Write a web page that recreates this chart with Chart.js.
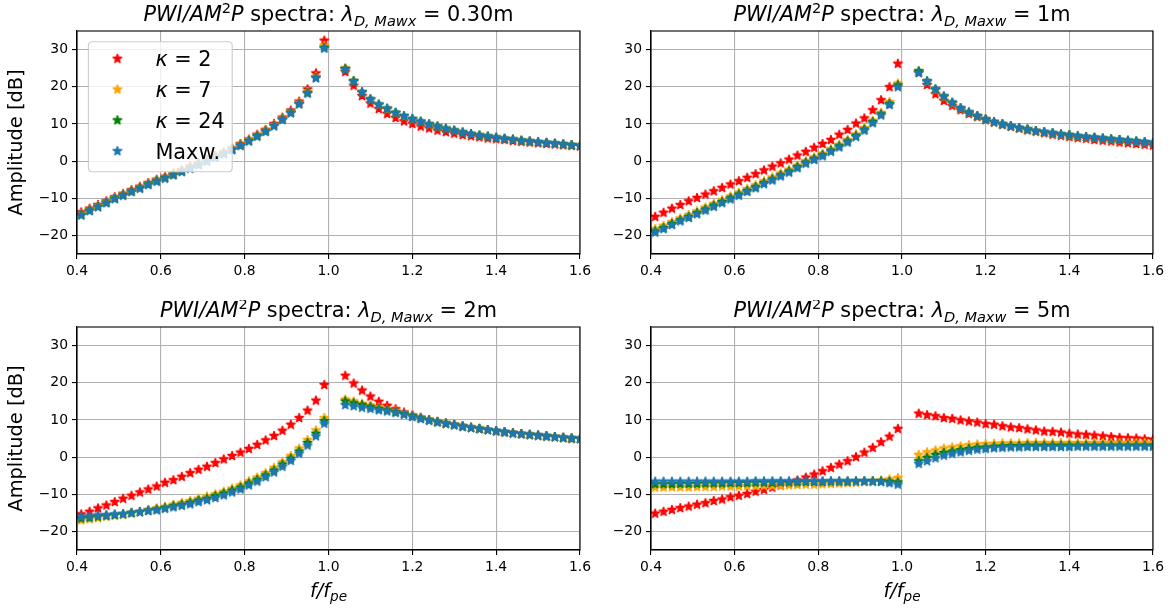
<!DOCTYPE html>
<html><head><meta charset="utf-8">
<script src="https://cdn.jsdelivr.net/npm/chart.js@4.4.1/dist/chart.umd.min.js"></script>
<style>
html,body{margin:0;padding:0;background:#fff;}
#wrap{position:relative;width:1175px;height:610px;overflow:hidden;background:#fff}
canvas{position:absolute;display:block}
</style></head><body><div id="wrap">
<canvas id="c1" width="600" height="300" style="left:0px;top:0px;width:600px;height:300px"></canvas>
<canvas id="c2" width="588" height="300" style="left:587px;top:0px;width:588px;height:300px"></canvas>
<canvas id="c3" width="600" height="310" style="left:0px;top:300px;width:600px;height:310px"></canvas>
<canvas id="c4" width="588" height="310" style="left:587px;top:300px;width:588px;height:310px"></canvas>
</div>
<script>
// ---------------- data ----------------
const freqRatio = [0.41,0.43,0.45,0.47,0.49,0.51,0.53,0.55,0.57,0.59,0.61,0.63,0.65,0.67,0.69,0.71,0.73,0.75,0.77,0.79,0.81,0.83,0.85,0.87,0.89,0.91,0.93,0.95,0.97,0.99,
  1.04,1.06,1.08,1.10,1.12,1.14,1.16,1.18,1.20,1.22,1.24,1.26,1.28,1.30,1.32,1.34,1.36,1.38,1.40,1.42,1.44,1.46,1.48,1.50,1.52,1.54,1.56,1.58,1.60];
const xTickValues = [0.4,0.6,0.8,1.0,1.2,1.4,1.6];
const yTickValues = [-20,-10,0,10,20,30];
const seriesLabels = ['κ = 2','κ = 7','κ = 24','Maxw.'];

// panel 1: lambda_D = 0.30 m
const p1_k2   = [-13.8,-12.8,-11.8,-10.8,-9.7,-8.8,-7.8,-6.9,-5.9,-5.0,-4.2,-3.3,-2.4,-1.5,-0.6,0.3,1.4,2.3,3.4,4.6,5.8,7.1,8.4,10.0,11.7,13.6,16.0,19.3,23.6,32.4,
  24.0,20.3,17.5,15.5,14.0,12.7,11.6,10.7,10.0,9.3,8.8,8.2,7.8,7.4,7.0,6.7,6.4,6.1,5.9,5.7,5.4,5.2,5.0,4.8,4.6,4.5,4.3,4.1,4.0];
const p1_k7   = [-14.3,-13.1,-12.1,-11.0,-9.9,-9.0,-8.0,-7.1,-6.1,-5.2,-4.4,-3.5,-2.6,-1.7,-0.8,0.2,1.2,2.2,3.3,4.4,5.6,6.9,8.2,9.7,11.4,13.2,15.6,18.6,22.7,31.0,
  25.0,21.6,18.6,16.6,15.1,13.9,12.9,12.0,11.2,10.5,9.8,9.2,8.7,8.2,7.7,7.3,6.9,6.6,6.3,6.0,5.8,5.5,5.3,5.1,4.9,4.7,4.5,4.3,4.2];
const p1_k24  = [-14.5,-13.3,-12.3,-11.2,-10.1,-9.2,-8.2,-7.3,-6.3,-5.4,-4.6,-3.7,-2.8,-1.9,-1.0,0.0,1.0,2.0,3.1,4.2,5.4,6.7,8.0,9.5,11.2,13.0,15.4,18.3,22.4,30.5,
  24.8,21.5,18.5,16.6,15.2,14.1,13.0,12.1,11.3,10.6,9.9,9.3,8.7,8.2,7.7,7.3,6.9,6.6,6.3,6.0,5.8,5.5,5.3,5.1,4.9,4.7,4.5,4.3,4.1];
const p1_maxw = [-14.6,-13.4,-12.4,-11.3,-10.2,-9.3,-8.3,-7.4,-6.4,-5.5,-4.7,-3.8,-2.9,-2.0,-1.1,-0.1,0.9,1.9,3.0,4.1,5.3,6.6,7.9,9.4,11.1,12.9,15.3,18.2,22.3,30.3,
  24.6,21.4,18.5,16.6,15.2,14.1,13.0,12.1,11.3,10.6,9.9,9.3,8.7,8.2,7.7,7.3,6.9,6.6,6.3,6.0,5.8,5.5,5.3,5.1,4.9,4.7,4.5,4.3,4.1];

// panel 2: lambda_D = 1 m
const p2_k2   = [-15.0,-13.9,-12.8,-11.8,-10.8,-9.9,-9.0,-8.1,-7.2,-6.3,-5.4,-4.5,-3.5,-2.5,-1.5,-0.6,0.4,1.5,2.5,3.6,4.6,5.7,7.1,8.4,10.1,11.5,13.7,16.4,19.9,26.2,
  23.8,20.5,18.0,16.2,14.9,13.7,12.7,11.9,11.1,10.4,9.8,9.3,8.8,8.3,7.9,7.5,7.1,6.8,6.5,6.2,6.0,5.7,5.5,5.3,5.0,4.8,4.6,4.4,4.2];
const p2_k7   = [-18.3,-17.4,-16.4,-15.4,-14.5,-13.5,-12.5,-11.5,-10.5,-9.5,-8.5,-7.5,-6.5,-5.4,-4.4,-3.3,-2.3,-1.2,0.0,1.0,2.0,3.2,4.4,5.7,7.2,8.9,10.9,13.0,15.9,20.9,
  24.0,21.3,19.1,17.2,15.5,14.1,13.0,12.0,11.2,10.5,9.9,9.4,8.9,8.5,8.1,7.7,7.4,7.1,6.9,6.6,6.4,6.2,6.0,5.8,5.6,5.4,5.2,5.0,4.8];
const p2_k24  = [-18.9,-18.0,-16.9,-15.9,-15.0,-14.0,-13.0,-12.0,-11.0,-10.0,-9.0,-8.0,-7.0,-5.9,-4.9,-3.8,-2.8,-1.6,-0.4,0.6,1.6,2.8,4.0,5.3,6.8,8.5,10.5,12.6,15.4,20.4,
  24.2,21.5,19.3,17.4,15.7,14.2,13.1,12.1,11.2,10.5,9.9,9.4,8.9,8.5,8.1,7.8,7.5,7.2,7.0,6.7,6.5,6.3,6.1,5.9,5.7,5.5,5.3,5.1,4.9];
const p2_maxw = [-19.2,-18.3,-17.2,-16.2,-15.3,-14.3,-13.3,-12.3,-11.3,-10.3,-9.3,-8.3,-7.3,-6.2,-5.2,-4.1,-3.1,-1.9,-0.7,0.3,1.3,2.5,3.7,5.0,6.5,8.2,10.2,12.3,15.1,19.9,
  23.7,21.4,19.3,17.4,15.7,14.2,13.1,12.1,11.2,10.5,9.9,9.4,8.9,8.5,8.1,7.8,7.5,7.2,7.0,6.7,6.5,6.3,6.1,5.9,5.7,5.5,5.3,5.1,4.9];

// panel 3: lambda_D = 2 m
const p3_k2   = [-15.4,-14.7,-13.8,-13.0,-12.1,-11.2,-10.4,-9.5,-8.7,-7.9,-6.9,-6.2,-5.3,-4.3,-3.4,-2.6,-1.6,-0.6,0.3,1.2,2.2,3.3,4.5,5.7,7.1,8.7,10.5,12.5,15.2,19.4,
  21.9,19.8,17.9,16.3,14.9,13.8,12.9,12.0,11.2,10.6,10.0,9.5,9.1,8.7,8.3,7.9,7.6,7.3,7.0,6.7,6.5,6.2,6.0,5.8,5.6,5.4,5.2,5.0,4.9];
const p3_k7   = [-17.0,-16.7,-16.4,-16.0,-15.7,-15.4,-15.0,-14.7,-14.2,-13.8,-13.3,-12.8,-12.3,-11.8,-11.2,-10.6,-10.0,-9.3,-8.5,-7.6,-6.5,-5.5,-4.3,-2.9,-1.4,0.3,2.3,4.6,7.2,10.5,
  15.5,15.0,14.4,13.9,13.3,12.8,12.3,11.7,11.1,10.5,10.0,9.5,9.1,8.7,8.3,7.9,7.6,7.3,7.0,6.7,6.5,6.2,6.0,5.8,5.6,5.4,5.2,5.0,4.9];
const p3_k24  = [-16.5,-16.3,-16.0,-15.8,-15.6,-15.4,-15.1,-14.8,-14.4,-14.1,-13.7,-13.2,-12.8,-12.3,-11.7,-11.2,-10.5,-9.8,-9.0,-8.2,-7.1,-6.1,-4.9,-3.6,-2.0,-0.4,1.5,3.8,6.3,9.7,
  15.0,14.5,14.0,13.5,13.0,12.6,12.1,11.6,11.0,10.4,9.9,9.4,9.0,8.6,8.2,7.9,7.6,7.3,7.0,6.7,6.4,6.2,6.0,5.8,5.6,5.4,5.2,5.0,4.9];
const p3_maxw = [-16.1,-16.0,-15.7,-15.6,-15.4,-15.3,-15.0,-14.8,-14.5,-14.3,-13.9,-13.5,-13.1,-12.7,-12.1,-11.6,-11.0,-10.3,-9.5,-8.7,-7.6,-6.6,-5.4,-4.1,-2.6,-1.0,0.9,3.1,5.6,9.0,
  14.0,13.7,13.3,13.0,12.6,12.3,11.9,11.4,10.8,10.3,9.8,9.4,9.0,8.6,8.2,7.9,7.6,7.3,7.0,6.7,6.4,6.2,6.0,5.8,5.6,5.4,5.2,5.0,4.9];

// panel 4: lambda_D = 5 m
const p4_k2   = [-15.2,-14.7,-14.2,-13.7,-13.3,-12.8,-12.4,-11.8,-11.4,-10.8,-10.4,-9.9,-9.3,-8.8,-8.2,-7.6,-7.0,-6.3,-5.5,-4.7,-3.8,-2.9,-2.0,-1.1,0.0,1.2,2.5,4.0,5.5,7.6,
  11.7,11.3,11.0,10.5,10.3,9.9,9.6,9.3,8.9,8.7,8.3,8.0,7.8,7.5,7.2,6.9,6.8,6.6,6.3,6.1,6.0,5.8,5.6,5.4,5.2,5.1,5.0,4.8,4.7];
const p4_k7   = [-8.2,-8.2,-8.1,-8.1,-8.1,-8.0,-8.0,-8.0,-7.9,-7.9,-7.9,-7.8,-7.8,-7.7,-7.7,-7.6,-7.6,-7.5,-7.4,-7.4,-7.3,-7.2,-7.1,-7.0,-6.9,-6.7,-6.5,-6.3,-6.0,-5.6,
  0.6,1.3,1.8,2.3,2.6,2.9,3.2,3.4,3.5,3.6,3.7,3.7,3.7,3.8,3.8,3.8,3.8,3.8,3.8,3.8,3.8,3.8,3.8,3.8,3.8,3.8,3.8,3.8,3.8];
const p4_k24  = [-7.3,-7.3,-7.3,-7.2,-7.2,-7.2,-7.1,-7.1,-7.1,-7.0,-7.0,-7.0,-6.9,-6.9,-6.9,-6.8,-6.8,-6.8,-6.7,-6.7,-6.7,-6.6,-6.6,-6.6,-6.5,-6.5,-6.5,-6.5,-6.6,-6.8,
  -1.1,-0.2,0.6,1.1,1.5,1.9,2.2,2.5,2.6,2.8,2.9,3.0,3.0,3.1,3.1,3.1,3.1,3.1,3.1,3.1,3.1,3.1,3.1,3.1,3.1,3.1,3.1,3.1,3.1];
const p4_maxw = [-6.6,-6.6,-6.6,-6.6,-6.6,-6.6,-6.6,-6.6,-6.6,-6.6,-6.6,-6.6,-6.5,-6.5,-6.5,-6.5,-6.5,-6.5,-6.5,-6.5,-6.5,-6.5,-6.5,-6.5,-6.5,-6.5,-6.6,-6.7,-7.0,-7.4,
  -1.8,-1.1,-0.3,0.4,0.9,1.3,1.7,2.0,2.2,2.4,2.5,2.6,2.6,2.7,2.7,2.7,2.7,2.7,2.7,2.8,2.8,2.8,2.8,2.8,2.8,2.8,2.8,2.8,2.8];

// ---------------- drawing helpers ----------------
const FONT = "'DejaVu Sans', 'Liberation Sans', sans-serif";
const seriesColors = ['#ff0000','#ffa500','#008000','#1f77b4'];

function starImg(color){
  const c = document.createElement('canvas'); c.width = 16; c.height = 16;
  const g = c.getContext('2d');
  const R = 4.8, r = R*0.381966;
  g.beginPath();
  for (let i=0;i<10;i++){
    const a = -Math.PI/2 + i*Math.PI/5, rad = (i%2)? r : R;
    g.lineTo(8 + rad*Math.cos(a), 8 + rad*Math.sin(a));
  }
  g.closePath();
  g.fillStyle = color; g.fill();
  g.strokeStyle = color; g.lineWidth = 1.3; g.lineJoin = 'bevel'; g.stroke();
  return c;
}
const stars = seriesColors.map(starImg);

function fontStr(p, size){ return (p.it ? 'italic ' : '') + size + 'px ' + FONT; }
function drawRich(ctx, parts, cx, baseline, S){
  const items = parts.map(p => {
    const size = (p.sub || p.sup) ? S*0.7 : S;
    ctx.font = fontStr(p, size);
    return {p, size, w: ctx.measureText(p.t).width};
  });
  const total = items.reduce((a,b)=>a+b.w, 0);
  let x = cx - total/2;
  ctx.textAlign = 'left'; ctx.textBaseline = 'alphabetic'; ctx.fillStyle = '#000';
  items.forEach(it => {
    ctx.font = fontStr(it.p, it.size);
    let y = baseline;
    if (it.p.sub) y += S*0.22;
    if (it.p.sup) y -= S*0.38;
    ctx.fillText(it.p.t, x, y);
    x += it.w;
  });
}

function fmtX(v){ return (Math.round(v*10)/10).toFixed(1); }
function fmtY(v){
  const n = Math.round(v);
  return n < 0 ? '\u2212' + Math.abs(n) : String(n);
}

function makeTitle(sub, val){
  return [{t:'PWI/AM', it:true},{t:'2', sup:true},{t:'P', it:true},{t:' spectra: '},{t:'λ', it:true},{t:sub, it:true, sub:true},{t:' = ' + val}];
}

const panels = [
  {id:'c1', W:600, H:300, area:{l:77, t:31, r:580, b:254}, title:makeTitle('D, Mawx','0.30m'), ylabel:true, xlabel:false, legend:true, data:[p1_k2,p1_k7,p1_k24,p1_maxw]},
  {id:'c2', W:588, H:300, area:{l:64, t:31, r:566, b:254}, title:makeTitle('D, Maxw','1m'), ylabel:false, xlabel:false, legend:false, data:[p2_k2,p2_k7,p2_k24,p2_maxw]},
  {id:'c3', W:600, H:310, area:{l:77, t:27, r:580, b:250}, title:makeTitle('D, Mawx','2m'), ylabel:true, xlabel:true, legend:false, data:[p3_k2,p3_k7,p3_k24,p3_maxw]},
  {id:'c4', W:588, H:310, area:{l:64, t:27, r:566, b:250}, title:makeTitle('D, Maxw','5m'), ylabel:false, xlabel:true, legend:false, data:[p4_k2,p4_k7,p4_k24,p4_maxw]},
];

panels.forEach(P => {
  const decor = {
    id:'decor',
    afterDatasetsDraw(chart){
      const ctx = chart.ctx, a = chart.chartArea;
      ctx.save();
      ctx.strokeStyle = '#000'; ctx.lineWidth = 1.1;
      ctx.strokeRect(a.left, a.top, a.right-a.left, a.bottom-a.top);
      ctx.restore();
    },
    afterDraw(chart){
      const ctx = chart.ctx, a = chart.chartArea;
      ctx.save();
      const cx = (a.left + a.right)/2;
      drawRich(ctx, P.title, cx, a.top - 10, 20.8);
      if (P.ylabel){
        ctx.save();
        ctx.translate(17, (a.top + a.bottom)/2);
        ctx.rotate(-Math.PI/2);
        ctx.font = '19.4px ' + FONT; ctx.fillStyle = '#000';
        ctx.textAlign = 'center'; ctx.textBaseline = 'middle';
        ctx.fillText('Amplitude [dB]', 0, 0);
        ctx.restore();
      }
      if (P.xlabel){
        drawRich(ctx, [{t:'f/f', it:true},{t:'pe', it:true, sub:true}], cx, a.bottom + 47, 19.4);
      }
      if (P.legend){
        const bx = a.left + 11.4, by = a.top + 10.7, bw = 143.8, bh = 130, rr = 4;
        ctx.beginPath();
        ctx.moveTo(bx+rr, by); ctx.lineTo(bx+bw-rr, by); ctx.quadraticCurveTo(bx+bw, by, bx+bw, by+rr);
        ctx.lineTo(bx+bw, by+bh-rr); ctx.quadraticCurveTo(bx+bw, by+bh, bx+bw-rr, by+bh);
        ctx.lineTo(bx+rr, by+bh); ctx.quadraticCurveTo(bx, by+bh, bx, by+bh-rr);
        ctx.lineTo(bx, by+rr); ctx.quadraticCurveTo(bx, by, bx+rr, by);
        ctx.closePath();
        ctx.fillStyle = 'rgba(255,255,255,0.8)'; ctx.fill();
        ctx.strokeStyle = '#cccccc'; ctx.lineWidth = 1.1; ctx.stroke();
        const S = 20.8;
        seriesLabels.forEach((lab, i) => {
          const ry = by + 17 + i*30.8;
          ctx.drawImage(stars[i], bx + 29 - 8, ry - 8);
          const x0 = bx + 67;
          const parts = lab.startsWith('κ') ? [{t:'κ', it:true},{t:lab.slice(1)}] : [{t:lab}];
          let x = x0;
          ctx.fillStyle = '#000'; ctx.textAlign = 'left'; ctx.textBaseline = 'alphabetic';
          parts.forEach(p => { ctx.font = fontStr(p, S); ctx.fillText(p.t, x, ry + 7.6); x += ctx.measureText(p.t).width; });
        });
      }
      ctx.restore();
    }
  };

  const datasets = P.data.map((vals, i) => ({
    label: seriesLabels[i],
    data: freqRatio.map((x, j) => ({x, y: vals[j]})),
    pointStyle: stars[i],
    pointRadius: 5,
    showLine: false,
    order: 3 - i,
    clip: 0,
  }));

  new Chart(document.getElementById(P.id), {
    type: 'scatter',
    data: { datasets },
    options: {
      responsive: false,
      animation: false,
      events: [],
      layout: { padding: { left: 0, top: P.area.t, right: P.W - P.area.r, bottom: 0 } },
      plugins: { legend: { display: false }, tooltip: { enabled: false }, title: { display: false } },
      scales: {
        x: {
          type: 'linear', min: 0.4, max: 1.6,
          afterBuildTicks: s => { s.ticks = xTickValues.map(v => ({value: v})); },
          afterFit: s => { s.height = P.H - P.area.b; s.paddingLeft = 0; s.paddingRight = 0; },
          ticks: { callback: v => fmtX(v), autoSkip: false, maxRotation: 0, padding: 4, color: '#000', font: { family: FONT, size: 13.9 } },
          grid: { color: '#b0b0b0', lineWidth: 1.1, drawTicks: true, tickLength: 5, tickColor: '#000', tickWidth: 1.1 },
          border: { display: true, color: '#000', width: 1.1 }
        },
        y: {
          type: 'linear', min: -25, max: 35,
          afterBuildTicks: s => { s.ticks = yTickValues.map(v => ({value: v})); },
          afterFit: s => { s.width = P.area.l; s.paddingTop = 0; s.paddingBottom = 0; },
          ticks: { callback: v => fmtY(v), autoSkip: false, padding: 4, color: '#000', font: { family: FONT, size: 13.9 } },
          grid: { color: '#b0b0b0', lineWidth: 1.1, drawTicks: true, tickLength: 5, tickColor: '#000', tickWidth: 1.1 },
          border: { display: true, color: '#000', width: 1.1 }
        }
      }
    },
    plugins: [decor]
  });
});
</script>
</body></html>
